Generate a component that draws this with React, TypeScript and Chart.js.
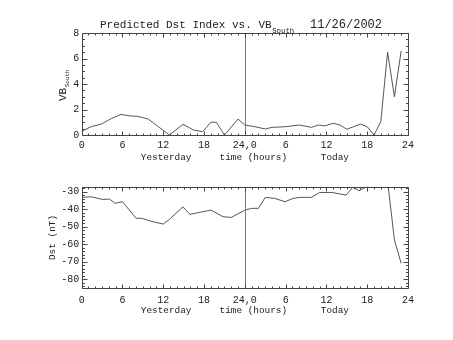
import React, { useEffect, useRef } from 'react';
import { Chart, registerables } from 'chart.js';

Chart.register(...registerables);

// ---- data ----
const xTickLabels = ['0', '6', '12', '18', '24,0', '6', '12', '18', '24'];
const xTitle = 'Yesterday     time (hours)      Today';
const chartTitle = 'Predicted Dst Index vs. VB';
const chartTitleSub = 'South';
const chartDate = '11/26/2002';
const vbTitle = 'VB';
const vbTitleSub = 'South';
const dstTitle = 'Dst (nT)';

const vbHours = [0, 1.4, 2.9, 4.4, 5.8, 7.0, 8.3, 9.8, 12.9, 14.9, 16.4, 17.8, 19.0, 19.8, 21.0, 23.0, 24.0, 25.5, 27, 28, 30, 32, 33.8, 34.8, 35.8, 37, 38, 39, 40, 41, 42, 43, 44, 45, 46, 47];
const vbValues = [0.3, 0.65, 0.86, 1.3, 1.62, 1.5, 1.46, 1.25, 0, 0.84, 0.4, 0.26, 1.0, 1.0, 0, 1.25, 0.78, 0.65, 0.47, 0.6, 0.65, 0.78, 0.6, 0.78, 0.72, 0.92, 0.78, 0.45, 0.65, 0.86, 0.65, 0, 1.05, 6.5, 3.0, 6.6];

const dstHours = [0, 1.4, 3.1, 4.1, 4.9, 6.0, 8.0, 8.8, 10.5, 12.0, 12.9, 14.9, 15.9, 17.1, 19.0, 20.8, 22.0, 24.0, 25, 26, 27, 28.4, 29.9, 31.1, 32.1, 33.8, 35, 36.8, 38.9, 39.9, 40.8, 42, 43, 44, 45, 46, 47];
const dstValues = [-33.2, -32.9, -34.4, -34.2, -36.6, -35.7, -45.2, -45.2, -47.2, -48.5, -45.8, -38.6, -42.9, -42, -40.5, -44.3, -44.7, -40.5, -39.5, -39.5, -33.2, -33.8, -35.7, -33.8, -33.2, -33.2, -30.4, -30.4, -31.9, -27.3, -29.4, -27.0, -23, -22, -24, -57.5, -71];

const xRange = [0, 48];
const xMajor = 6;
const xMinor = 1;
const vbRange = [0, 8];
const vbMajor = 2;
const vbMinor = 0.5;
const dstRange = [-85.3, -27.1];
const dstMajor = 10;
const dstMinor = 2;
const dayBoundary = 24;

// ---- style ----
const MONO = "'Liberation Mono', 'DejaVu Sans Mono', monospace";
const INK = '#222';
const AXIS = '#444';
const LINE = '#555';
const VLINE = '#777';

function boxTicksPlugin(yMinor: number, yMajor: number) {
  return {
    id: 'boxTicks',
    afterDatasetsDraw(chart: any) {
      const { ctx, chartArea: a, scales } = chart;
      const xs = scales.x;
      const ys = scales.y;
      ctx.save();
      ctx.lineWidth = 1;
      const L = Math.round(a.left) + 0.5;
      const R = Math.round(a.right) + 0.5;
      const T = Math.round(a.top) + 0.5;
      const B = Math.round(a.bottom) + 0.5;
      // day boundary line
      ctx.strokeStyle = VLINE;
      const xb = Math.round(xs.getPixelForValue(dayBoundary)) + 0.5;
      ctx.beginPath();
      ctx.moveTo(xb, T);
      ctx.lineTo(xb, B);
      ctx.stroke();
      ctx.strokeStyle = AXIS;
      ctx.beginPath();
      ctx.rect(L, T, R - L, B - T);
      // x ticks (bottom & top)
      for (let v = xs.min; v <= xs.max + 1e-9; v += xMinor) {
        const major = Math.abs(v / xMajor - Math.round(v / xMajor)) < 1e-6;
        const len = major ? 4 : 2;
        const px = Math.round(xs.getPixelForValue(v)) + 0.5;
        ctx.moveTo(px, B);
        ctx.lineTo(px, B - len);
        ctx.moveTo(px, T);
        ctx.lineTo(px, T + len);
      }
      // y ticks (left & right)
      const start = Math.ceil(ys.min / yMinor - 1e-9) * yMinor;
      for (let v = start; v <= ys.max + 1e-9; v += yMinor) {
        const major = Math.abs(v / yMajor - Math.round(v / yMajor)) < 1e-6;
        const len = major ? 5 : 2.5;
        const py = Math.round(ys.getPixelForValue(v)) + 0.5;
        ctx.moveTo(L, py);
        ctx.lineTo(L + len, py);
        ctx.moveTo(R, py);
        ctx.lineTo(R - len, py);
      }
      ctx.stroke();
      ctx.restore();
    },
  };
}

const topTextPlugin = {
  id: 'topText',
  afterDraw(chart: any) {
    const { ctx } = chart;
    ctx.save();
    ctx.fillStyle = INK;
    ctx.textAlign = 'left';
    ctx.textBaseline = 'alphabetic';
    ctx.font = `11px ${MONO}`;
    ctx.fillText(chartTitle, 100, 28.3);
    const w = ctx.measureText(chartTitle).width;
    ctx.font = `7.4px ${MONO}`;
    ctx.fillText(chartTitleSub, 100 + w + 0.5, 33);
    ctx.font = `12px ${MONO}`;
    ctx.fillText(chartDate, 310, 28.3);
    // rotated y title
    ctx.save();
    ctx.translate(66, 101);
    ctx.rotate(-Math.PI / 2);
    ctx.font = `11px ${MONO}`;
    ctx.fillText(vbTitle, 0, 0);
    const w2 = ctx.measureText(vbTitle).width;
    ctx.font = `6px ${MONO}`;
    ctx.fillText(vbTitleSub, w2 + 0.5, 3);
    ctx.restore();
    ctx.restore();
  },
};

interface Cfg {
  hours: number[];
  values: number[];
  padTop: number;
  xAxisH: number;
  xTickPad: number;
  xTitlePadBottom: number;
  yRange: number[];
  yMajor: number;
  yMinor: number;
  yTitle?: string;
  yTitlePad?: number;
  extra?: any[];
}

function makeChart(canvas: HTMLCanvasElement, c: Cfg) {
  const data = c.hours.map((h, i) => ({ x: h, y: c.values[i] }));
  return new Chart(canvas, {
    type: 'line',
    data: {
      datasets: [
        {
          data,
          borderColor: LINE,
          borderWidth: 1,
          pointRadius: 0,
          tension: 0,
          fill: false,
        },
      ],
    },
    options: {
      animation: false,
      responsive: false,
      devicePixelRatio: 1,
      layout: { padding: { left: 0, right: 45, top: c.padTop, bottom: 0 } },
      plugins: { legend: { display: false }, tooltip: { enabled: false }, title: { display: false } },
      scales: {
        x: {
          type: 'linear',
          min: xRange[0],
          max: xRange[1],
          grid: { display: false, drawTicks: false },
          border: { display: false },
          ticks: {
            stepSize: xMajor,
            autoSkip: false,
            maxRotation: 0,
            padding: c.xTickPad,
            color: INK,
            font: { family: MONO, size: 10 },
            callback: (v: any) => xTickLabels[Math.round(Number(v) / xMajor)] ?? '',
          },
          title: {
            display: true,
            text: xTitle,
            color: INK,
            font: { family: MONO, size: 9.4 },
            padding: { top: 0, bottom: c.xTitlePadBottom },
          },
          afterFit: (s: any) => {
            s.height = c.xAxisH;
          },
        },
        y: {
          type: 'linear',
          min: c.yRange[0],
          max: c.yRange[1],
          grid: { display: false, drawTicks: false },
          border: { display: false },
          ticks: {
            stepSize: c.yMajor,
            includeBounds: false,
            padding: 2.5,
            color: INK,
            font: { family: MONO, size: 10 },
          },
          title: c.yTitle
            ? {
                display: true,
                text: c.yTitle,
                color: INK,
                font: { family: MONO, size: 9.4 },
                padding: { top: c.yTitlePad ?? 0, bottom: 0 },
              }
            : { display: false },
          afterFit: (s: any) => {
            s.width = 81.7;
          },
        },
      },
    } as any,
    plugins: [boxTicksPlugin(c.yMinor, c.yMajor), ...(c.extra ?? [])],
  });
}

export default function App() {
  const topRef = useRef<HTMLCanvasElement>(null);
  const botRef = useRef<HTMLCanvasElement>(null);

  useEffect(() => {
    const c1 = makeChart(topRef.current!, {
      hours: vbHours,
      values: vbValues,
      padTop: 33,
      xAxisH: 35,
      xTickPad: 4.7,
      xTitlePadBottom: 7,
      yRange: vbRange,
      yMajor: vbMajor,
      yMinor: vbMinor,
      extra: [topTextPlugin],
    });
    const c2 = makeChart(botRef.current!, {
      hours: dstHours,
      values: dstValues,
      padTop: 16.7,
      xAxisH: 51.7,
      xTickPad: 5.7,
      xTitlePadBottom: 23.4,
      yRange: dstRange,
      yMajor: dstMajor,
      yMinor: dstMinor,
      yTitle: dstTitle,
      yTitlePad: 46.9,
    });
    return () => {
      c1.destroy();
      c2.destroy();
    };
  }, []);

  return (
    <div style={{ position: 'absolute', left: 0, top: 0, width: 453, height: 340, background: '#fff' }}>
      <canvas ref={topRef} width={453} height={170} style={{ position: 'absolute', left: 0, top: 0, width: 453, height: 170 }} />
      <canvas ref={botRef} width={453} height={170} style={{ position: 'absolute', left: 0, top: 170, width: 453, height: 170 }} />
    </div>
  );
}
